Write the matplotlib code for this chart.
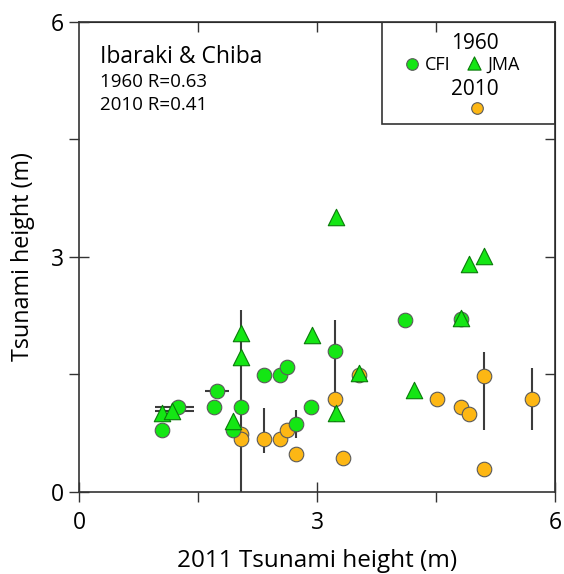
import matplotlib
matplotlib.use("Agg")
import matplotlib.pyplot as plt
import numpy as np
from matplotlib.patches import Rectangle

plt.rcParams['font.family'] = ['Open Sans', 'DejaVu Sans']

# 1960 CFI (green circles): x = 2011 height, y = 1960 height
cfi_x = [1.05, 1.25, 1.74, 1.70, 2.04, 1.94, 2.33, 2.53, 2.62, 2.74, 2.93, 3.23, 4.11, 4.81]
cfi_y = [0.79, 1.08, 1.29, 1.09, 1.09, 0.79, 1.49, 1.49, 1.60, 0.87, 1.09, 1.80, 2.20, 2.21]
cfi_xerr_lo = [0, 0.29, 0.15, 0, 0, 0, 0, 0, 0, 0, 0, 0, 0, 0]
cfi_xerr_hi = [0, 0.20, 0.15, 0, 0, 0, 0, 0, 0, 0, 0, 0, 0, 0]
cfi_yerr_lo = [0, 0, 0, 0, 0, 0, 0, 0, 0, 0.18, 0, 0.91, 0, 0]
cfi_yerr_hi = [0, 0, 0, 0, 0, 0, 0, 0, 0, 0.18, 0, 0.40, 0, 0]

# 1960 JMA (green triangles)
jma_x = [1.05, 1.17, 1.94, 2.04, 2.04, 2.94, 3.24, 3.24, 3.53, 4.22, 4.81, 4.92, 5.11]
jma_y = [1.01, 1.04, 0.90, 1.72, 2.03, 2.00, 3.51, 1.01, 1.52, 1.30, 2.22, 2.91, 3.01]
jma_xerr_lo = [0, 0.21, 0, 0, 0, 0, 0, 0, 0, 0, 0, 0, 0]
jma_xerr_hi = [0, 0.28, 0, 0, 0, 0, 0, 0, 0, 0, 0, 0, 0]

# 2010 (orange circles)
y10_x = [2.04, 2.04, 2.33, 2.53, 2.62, 2.74, 3.23, 3.33, 3.53, 4.51, 4.81, 4.91, 5.11, 5.11, 5.71]
y10_y = [0.74, 0.68, 0.68, 0.68, 0.79, 0.49, 1.19, 0.43, 1.49, 1.19, 1.09, 0.99, 1.48, 0.29, 1.19]
y10_yerr_lo = [0.74, 0, 0.18, 0, 0, 0, 0, 0, 0, 0, 0, 0, 0.69, 0, 0.40]
y10_yerr_hi = [1.58, 0, 0.39, 0, 0, 0, 0, 0, 0, 0, 0.09, 0, 0.31, 0, 0.39]

xticks = [0, 3, 6]
yticks = [0, 3, 6]

green = '#14e614'
orange = '#fdb714'
ecol = '#3c3c3c'

fig = plt.figure(figsize=(5.64, 5.74), dpi=100)
ax = fig.add_axes([0.1401, 0.1429, 0.8440, 0.8188])

# error bars
ax.errorbar(y10_x, y10_y, yerr=[y10_yerr_lo, y10_yerr_hi], fmt='none', ecolor=ecol, elinewidth=1.5, capsize=0, zorder=1)
ax.errorbar(cfi_x, cfi_y, xerr=[cfi_xerr_lo, cfi_xerr_hi], yerr=[cfi_yerr_lo, cfi_yerr_hi], fmt='none', ecolor=ecol, elinewidth=1.5, capsize=0, zorder=1)
ax.errorbar(jma_x, jma_y, xerr=[jma_xerr_lo, jma_xerr_hi], fmt='none', ecolor=ecol, elinewidth=1.5, capsize=0, zorder=1)

ax.scatter(y10_x, y10_y, s=110, marker='o', facecolor=orange, edgecolor='#5a5a5a', linewidth=0.8, zorder=3)
ax.scatter(cfi_x, cfi_y, s=110, marker='o', facecolor=green, edgecolor='#5a5a5a', linewidth=0.8, zorder=3)
ax.scatter(jma_x, jma_y, s=140, marker='^', facecolor=green, edgecolor='#0a7a0a', linewidth=0.8, zorder=4)

ax.set_xlim(0, 6)
ax.set_ylim(0, 6)
ax.set_xticks(xticks)
ax.set_yticks(yticks)
ax.set_xticklabels([str(v) for v in xticks], fontsize=16.5)
ax.set_yticklabels([str(v) for v in yticks], fontsize=16.5)
ax.set_xticks([1.5, 4.5], minor=True)
ax.set_yticks([1.5, 4.5], minor=True)
ax.tick_params(which='major', direction='inout', length=14, width=1.0, color='#333333', pad=4)
ax.tick_params(axis='x', which='major', pad=7)
ax.tick_params(which='minor', direction='out', length=7, width=1.0, color='#333333')
for s in ax.spines.values():
    s.set_color('#333333')
    s.set_linewidth(1.2)

# top/right inward ticks
axt = ax.secondary_xaxis('top')
axt.set_xticks([1.5, 3, 4.5])
axt.tick_params(direction='in', length=7, width=1.0, color='#333333', labeltop=False)
axr = ax.secondary_yaxis('right')
axr.set_yticks([1.5, 3, 4.5])
axr.tick_params(direction='in', length=7, width=1.0, color='#333333', labelright=False)

ax.set_xlabel('2011 Tsunami height (m)', fontsize=17.5, labelpad=10)
ax.set_ylabel('Tsunami height (m)', fontsize=16.8, labelpad=11)

ax.text(0.045, 0.925, 'Ibaraki & Chiba', transform=ax.transAxes, fontsize=16.5, va='center', ha='left')
ax.text(0.045, 0.872, '1960 R=0.63', transform=ax.transAxes, fontsize=13.5, va='center', ha='left')
ax.text(0.045, 0.823, '2010 R=0.41', transform=ax.transAxes, fontsize=13.5, va='center', ha='left')

# legend box
ax.add_patch(Rectangle((0.6355, 0.783), 0.3645, 0.217, transform=ax.transAxes, fill=False, edgecolor='#333333', linewidth=1.2, zorder=5))
ax.text(0.832, 0.955, '1960', transform=ax.transAxes, fontsize=15, ha='center', va='center')
ax.scatter([0.7], [0.91], transform=ax.transAxes, s=70, marker='o', facecolor=green, edgecolor='#5a5a5a', linewidth=0.8, zorder=6, clip_on=False)
ax.text(0.727, 0.908, 'CFI', transform=ax.transAxes, fontsize=13, ha='left', va='center')
ax.scatter([0.83], [0.912], transform=ax.transAxes, s=90, marker='^', facecolor=green, edgecolor='#0a7a0a', linewidth=0.8, zorder=6, clip_on=False)
ax.text(0.857, 0.908, 'JMA', transform=ax.transAxes, fontsize=13, ha='left', va='center')
ax.text(0.832, 0.857, '2010', transform=ax.transAxes, fontsize=15, ha='center', va='center')
ax.scatter([0.836], [0.818], transform=ax.transAxes, s=70, marker='o', facecolor=orange, edgecolor='#5a5a5a', linewidth=0.8, zorder=6, clip_on=False)

fig.savefig('out.png', dpi=100)
